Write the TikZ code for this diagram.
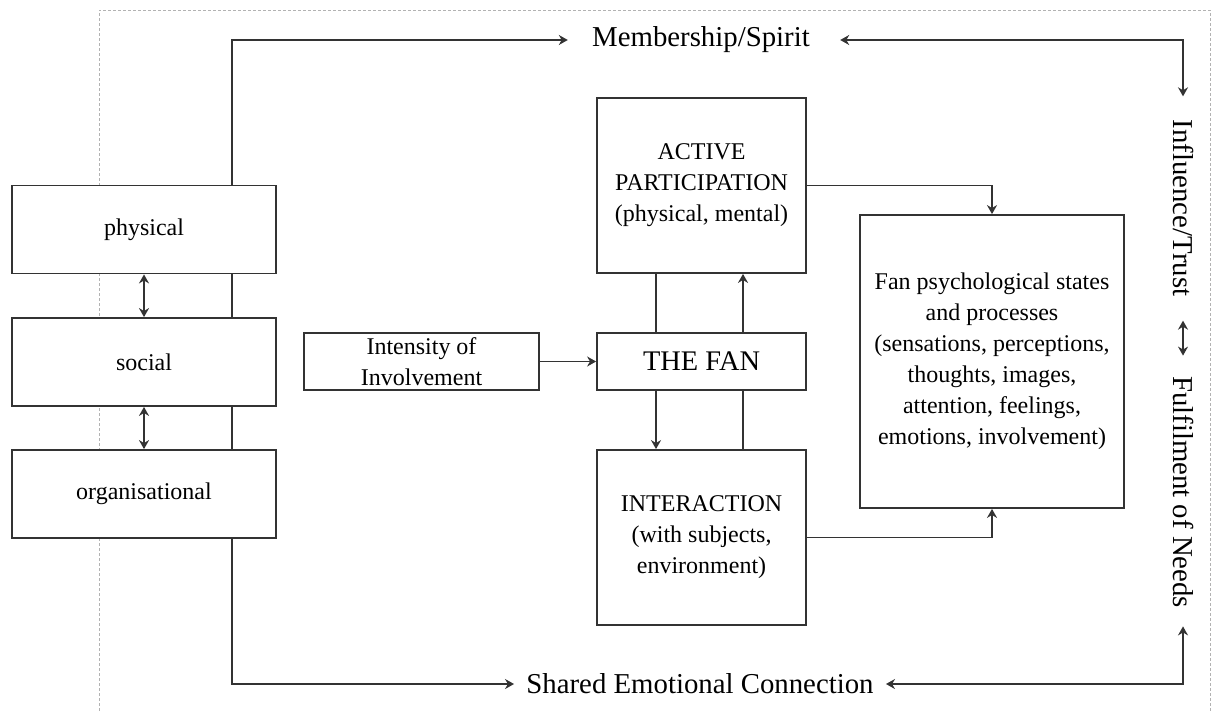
\documentclass[tikz,border=0pt]{standalone}
\usepackage{fontspec}
\setmainfont{Liberation Serif}
\usetikzlibrary{arrows.meta,positioning}

\tikzset{
  box/.style={draw=black!80, line width=0.9pt, fill=white, align=center,
    inner sep=2pt, font=\fontsize{12}{15.5}\selectfont},
  sidebox/.style={box, minimum width=132pt, minimum height=44pt},
  midbox/.style={box, minimum width=104.5pt},
  lbl/.style={inner sep=0pt, font=\fontsize{14.4}{17}\selectfont},
  link/.style={draw=black!80, line width=0.9pt},
}

\begin{document}
\begin{tikzpicture}[>={Stealth[length=4.5pt,width=5pt]}, x=0.5pt, y=-0.5pt]
  \useasboundingbox (0,0) rectangle (1218,711);
  % dotted frame
  \draw[black!30, dash pattern=on 1.5pt off 1pt] (99,711) |- (1210,10) -- (1210,711);

  % outer labels
  \node[lbl] (member) at (701,40) {Membership/Spirit};
  \node[lbl] (shared) at (700,684) {Shared Emotional Connection};
  \node[lbl, rotate=-90] (influence) at (1183,208) {Influence/Trust};
  \node[lbl, rotate=-90] (fulfil) at (1183,492) {Fulfilment of Needs};
  \coordinate (rail) at (232,360);

  \draw[link, <->, shorten <=12pt, shorten >=6pt] (member.west) -| (rail) |- (shared.west);
  \draw[link, <->, shorten <=15pt, shorten >=11.5pt] (member.east) -| (influence.west);
  \draw[link, <->, shorten <=6pt, shorten >=9pt] (shared.east) -| (fulfil.east);
  \draw[link, <->, shorten <=12pt, shorten >=10pt] (influence.east) -- (fulfil.west);

  % community boxes
  \node[sidebox] (phys) at (144,229.5) {physical};
  \node[sidebox] (soc) at (144,362) {social};
  \node[sidebox] (org) at (144,494) {organisational};
  \draw[link, <->] (phys) -- (soc);
  \draw[link, <->] (soc) -- (org);

  % the fan
  \node[box, minimum width=117.5pt, minimum height=28.5pt] (intens) at (421.5,361.5) {Intensity of\\Involvement};
  \node[midbox, minimum height=28.5pt, font=\fontsize{14.2}{17}\selectfont] (fan) at (701.5,361.5) {THE FAN};
  \node[midbox, minimum height=87.5pt] (active) at (701.5,185.5) {ACTIVE\\PARTICIPATION\\(physical, mental)};
  \node[midbox, minimum height=87.5pt] (interact) at (701.5,537.5) {INTERACTION\\(with subjects,\\environment)};
  \node[box, minimum width=132pt, minimum height=146.5pt] (states) at (992,361.5)
    {Fan psychological states\\and processes\\(sensations, perceptions,\\thoughts, images,\\attention, feelings,\\emotions, involvement)};

  \coordinate (lcol) at (656,0);
  \coordinate (rcol) at (743,0);
  \draw[link, ->] (intens) -- (fan);
  \draw[link] (active.south -| lcol) -- (fan.north -| lcol);
  \draw[link, ->] (fan.south -| lcol) -- (interact.north -| lcol);
  \draw[link, ->] (fan.north -| rcol) -- (active.south -| rcol);
  \draw[link] (interact.north -| rcol) -- (fan.south -| rcol);
  \draw[link, ->] (active.east) -| (states.north);
  \draw[link, ->] (interact.east) -| (states.south);
\end{tikzpicture}
\end{document}
